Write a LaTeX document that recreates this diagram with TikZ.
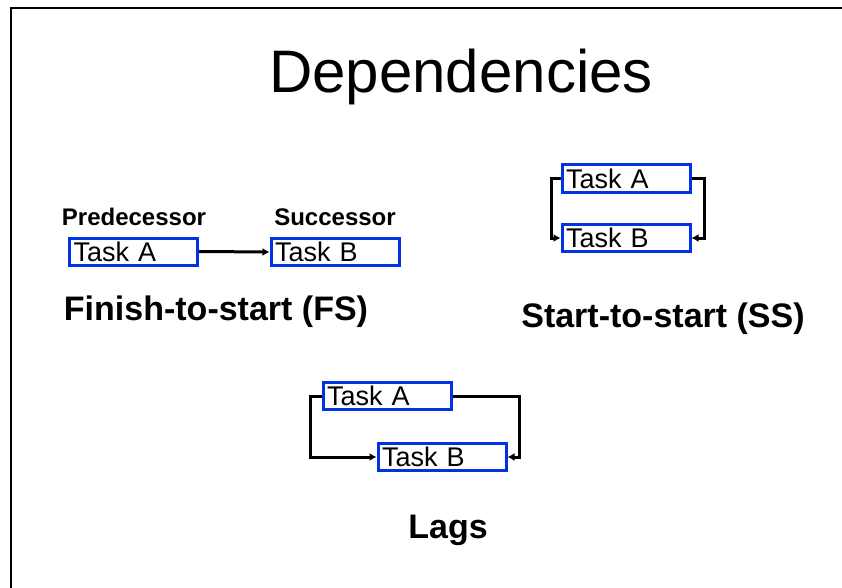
\documentclass[tikz,border=0pt]{standalone}
\usepackage{fontspec}
\setmainfont{Liberation Sans}
\usetikzlibrary{arrows.meta}
\definecolor{task_blue}{RGB}{0, 51, 230}
\tikzstyle{task}=[rectangle,draw=task_blue,line width=3pt,inner xsep=4pt,inner ysep=0pt,
  text width=120pt,align=left,minimum height=27pt,font=\fontsize{27}{27}\selectfont]
\tikzstyle{head}=[anchor=base,font=\fontsize{60}{60}\selectfont]
\tikzstyle{lbl}=[anchor=base,font=\bfseries\fontsize{24}{24}\selectfont]
\tikzstyle{caption}=[anchor=base,font=\bfseries\fontsize{34}{34}\selectfont]
\tikzstyle{link}=[line width=3pt,-{Latex[length=7pt,width=8pt]}]
\begin{document}
\begin{tikzpicture}[x=1pt, y=-1pt]
            \useasboundingbox (0, 0) rectangle (842, 588);
            \draw [line width=2.5pt] (11, 588) -- (11, 8) -- (842, 8);
            \node [style=head] (0) at (461, 93) {Dependencies};
            % finish-to-start
            \node [style=lbl] (1) at (134, 225) {Predecessor};
            \node [style=lbl] (2) at (335, 225) {Successor};
            \node [style=task] (3) at (133.5, 251.5) {Task A};
            \node [style=task] (4) at (335, 252) {Task B};
            \node [style=caption] (5) at (216, 320) {Finish-to-start (FS)};
            % start-to-start
            \node [style=task] (6) at (626, 178.5) {Task A};
            \node [style=task] (7) at (626, 238) {Task B};
            \node [style=caption] (8) at (663, 327) {Start-to-start (SS)};
            % lags
            \node [style=task] (9) at (387, 396) {Task A};
            \node [style=task] (10) at (442, 457) {Task B};
            \node [style=caption] (11) at (448, 538) {Lags};
            \draw [style=link] (3.east) to (4.west);
            \draw [style=link] (6.west) -- ++(-9, 0) |- (7.west);
            \draw [style=link] (6.east) -- ++(13, 0) |- (7.east);
            \draw [style=link] (9.west) -- ++(-11, 0) |- (10.west);
            \draw [style=link] (9.east) -- ++(67, 0) |- (10.east);
    \end{tikzpicture}
\end{document}
